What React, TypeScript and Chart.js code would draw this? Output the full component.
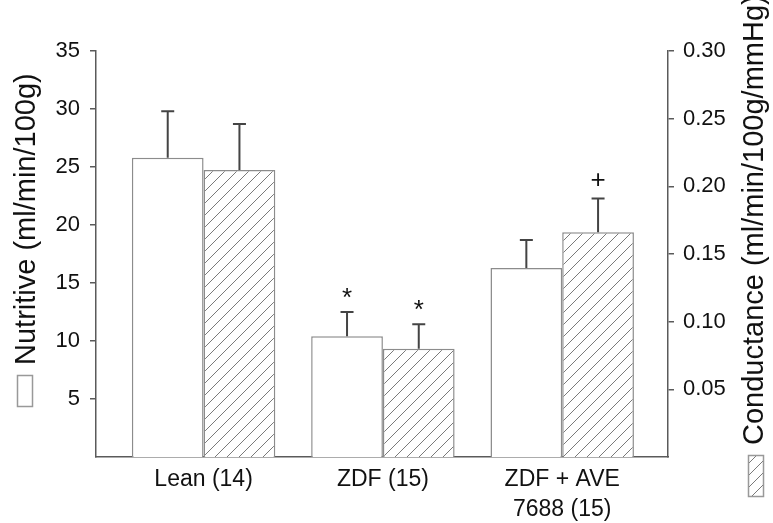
import React, { useEffect, useRef } from "react";
import { Chart, registerables } from "chart.js";

Chart.register(...registerables);

// ---- data ----
const categories: string[][] = [["Lean (14)"], ["ZDF (15)"], ["ZDF + AVE", "7688 (15)"]];
const nutritive = [25.8, 10.4, 16.3];
const nutritiveErr = [4.0, 2.1, 2.4];
const conductance = [0.212, 0.08, 0.166];
const conductanceErr = [0.034, 0.018, 0.025];
const nutritiveMarks = ["", "*", ""];
const conductanceMarks = ["", "*", "+"];
const leftTicks = [5, 10, 15, 20, 25, 30, 35];
const rightTicks = [0.05, 0.1, 0.15, 0.2, 0.25, 0.3];
const leftTitle = "Nutritive (ml/min/100g)";
const rightTitle = "Conductance (ml/min/100g/mmHg)";

const FONT = "'Liberation Sans', Arial, Helvetica, sans-serif";
const AXIS = "#5a5a5a";
const BAR_EDGE = "#8c8c8c";

function makeHatch(): CanvasPattern | string {
  const s = 12;
  const c = document.createElement("canvas");
  c.width = s;
  c.height = s;
  const g = c.getContext("2d");
  if (!g) return "#fff";
  g.fillStyle = "#ffffff";
  g.fillRect(0, 0, s, s);
  g.strokeStyle = "#7a7a7a";
  g.lineWidth = 1;
  g.beginPath();
  for (let k = -1; k <= 1; k++) {
    g.moveTo(0, s + k * s);
    g.lineTo(s, k * s);
  }
  g.stroke();
  const p = g.createPattern(c, "repeat");
  return p || "#fff";
}

export default function App() {
  const ref = useRef<HTMLCanvasElement | null>(null);

  useEffect(() => {
    const canvas = ref.current;
    if (!canvas) return;
    const hatch = makeHatch();

    const errorPlugin = {
      id: "errorBars",
      afterDatasetsDraw(chart: any) {
        const ctx = chart.ctx;
        const errs = [nutritiveErr, conductanceErr];
        const vals = [nutritive, conductance];
        const marks = [nutritiveMarks, conductanceMarks];
        chart.data.datasets.forEach((_: any, d: number) => {
          const meta = chart.getDatasetMeta(d);
          const scale = chart.scales[meta.yAxisID];
          meta.data.forEach((el: any, i: number) => {
            const x = el.x;
            const yTop = el.y;
            const yErr = scale.getPixelForValue(vals[d][i] + errs[d][i]);
            ctx.save();
            ctx.strokeStyle = "#444";
            ctx.lineWidth = 2;
            ctx.beginPath();
            ctx.moveTo(x, yTop);
            ctx.lineTo(x, yErr);
            ctx.moveTo(x - 6.5, yErr);
            ctx.lineTo(x + 6.5, yErr);
            ctx.stroke();
            const m = marks[d][i];
            if (m) {
              ctx.fillStyle = "#111";
              ctx.font = `26px ${FONT}`;
              ctx.textAlign = "center";
              ctx.textBaseline = "alphabetic";
              const tm = ctx.measureText(m);
              const asc = tm.actualBoundingBoxAscent;
              const desc = tm.actualBoundingBoxDescent;
              const center = yErr - 19;
              const base = center + (asc - desc) / 2;
              ctx.fillText(m, x, base);
            }
            ctx.restore();
          });
        });
      },
    };

    const titlePlugin = {
      id: "titles",
      afterDraw(chart: any) {
        const ctx = chart.ctx;
        ctx.save();
        ctx.fillStyle = "#111";
        ctx.textBaseline = "alphabetic";
        ctx.textAlign = "left";
        // left title
        ctx.save();
        ctx.translate(35, 365);
        ctx.rotate(-Math.PI / 2);
        ctx.font = `29px ${FONT}`;
        ctx.fillText(leftTitle, 0, 0);
        ctx.restore();
        // left legend box
        ctx.fillStyle = "#fff";
        ctx.fillRect(17.5, 375.5, 15, 31);
        ctx.strokeStyle = "#999";
        ctx.lineWidth = 1.5;
        ctx.strokeRect(17.5, 375.5, 15, 31);
        // right title
        ctx.save();
        ctx.fillStyle = "#111";
        ctx.translate(763, 445);
        ctx.rotate(-Math.PI / 2);
        ctx.font = `29px ${FONT}`;
        ctx.fillText(rightTitle, 0, 0);
        ctx.restore();
        // right legend box
        ctx.fillStyle = hatch as any;
        ctx.fillRect(748.5, 455.5, 15, 41);
        ctx.strokeStyle = "#999";
        ctx.strokeRect(748.5, 455.5, 15, 41);
        ctx.restore();
      },
    };

    const chart = new Chart(canvas, {
      type: "bar",
      data: {
        datasets: [
          {
            label: "Nutritive",
            data: nutritive.map((v, i) => ({ x: i, y: v })),
            yAxisID: "y",
            backgroundColor: "#ffffff",
            borderColor: BAR_EDGE,
            borderWidth: 1.5,
            categoryPercentage: 0.8,
            barPercentage: 1.0,
          },
          {
            label: "Conductance",
            data: conductance.map((v, i) => ({ x: i, y: v })),
            yAxisID: "y1",
            backgroundColor: hatch as any,
            borderColor: BAR_EDGE,
            borderWidth: 1.5,
            categoryPercentage: 0.8,
            barPercentage: 1.0,
          },
        ],
      },
      options: {
        responsive: false,
        animation: false,
        devicePixelRatio: 1,
        layout: { padding: { top: 51, left: 0, right: 0, bottom: 0 } },
        plugins: {
          legend: { display: false },
          tooltip: { enabled: false },
        },
        scales: {
          x: {
            type: "linear",
            min: -0.6,
            max: 2.59,
            offset: false,
            grid: { display: false },
            border: { display: true, color: AXIS, width: 1.5 },
            afterBuildTicks(scale: any) {
              scale.ticks = categories.map((_, i) => ({ value: i }));
            },
            afterFit(scale: any) {
              scale.height = 66;
            },
            ticks: {
              padding: 0,
              color: "#111",
              font: { family: FONT, size: 23, lineHeight: 1.3 },
              maxRotation: 0,
              autoSkip: false,
              callback: (v: any) => categories[Math.round(Number(v))] || "",
            },
          },
          y: {
            type: "linear",
            position: "left",
            min: 0,
            max: 35,
            grid: { drawOnChartArea: false, drawTicks: true, tickLength: 6, color: AXIS, lineWidth: 1.5 },
            border: { display: true, color: AXIS, width: 1.5 },
            afterBuildTicks(scale: any) {
              scale.ticks = leftTicks.map((v) => ({ value: v }));
            },
            afterFit(scale: any) {
              scale.width = 96;
            },
            ticks: {
              padding: 10,
              color: "#111",
              font: { family: FONT, size: 22 },
              callback: (v: any) => String(v),
            },
          },
          y1: {
            type: "linear",
            position: "right",
            min: 0,
            max: 0.3,
            grid: { drawOnChartArea: false, drawTicks: true, tickLength: 6, color: AXIS, lineWidth: 1.5 },
            border: { display: true, color: AXIS, width: 1.5 },
            afterBuildTicks(scale: any) {
              scale.ticks = rightTicks.map((v) => ({ value: v }));
            },
            afterFit(scale: any) {
              scale.width = 105;
            },
            ticks: {
              padding: 9,
              color: "#111",
              font: { family: FONT, size: 22 },
              callback: (v: any) => Number(v).toFixed(2),
            },
          },
        },
      },
      plugins: [errorPlugin, titlePlugin],
    } as any);

    return () => chart.destroy();
  }, []);

  return (
    <canvas
      ref={ref}
      width={773}
      height={523}
      style={{ position: "fixed", left: 0, top: 0, width: 773, height: 523, background: "#fff" }}
    />
  );
}
